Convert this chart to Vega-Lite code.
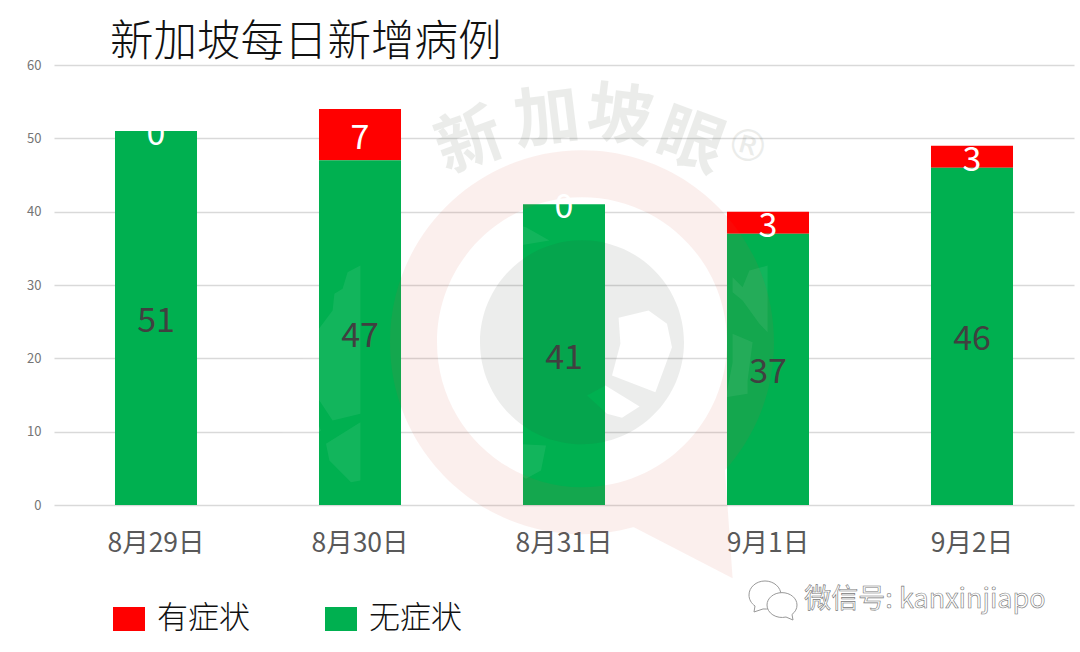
{
"$schema":"https://vega.github.io/schema/vega-lite/v6.json",
"autosize":{"type":"none"},
"padding":{"left":54,"top":65,"right":6,"bottom":147},
"width":1020,"height":440,
"background":"#ffffff",
"title":{"text":"新加坡每日新增病例","anchor":"start","frame":"group","dx":56,"offset":-6,"fontSize":43.5,"fontWeight":300,"font":"Noto Sans CJK SC","color":"#111111"},
"config":{"view":{"stroke":null},"font":"Noto Sans CJK SC"},
"data":{"values":[
{"date":"8月29日","type":"有症状","cases":0},{"date":"8月29日","type":"无症状","cases":51},
{"date":"8月30日","type":"有症状","cases":7},{"date":"8月30日","type":"无症状","cases":47},
{"date":"8月31日","type":"有症状","cases":0},{"date":"8月31日","type":"无症状","cases":41},
{"date":"9月1日","type":"有症状","cases":3},{"date":"9月1日","type":"无症状","cases":37},
{"date":"9月2日","type":"有症状","cases":3},{"date":"9月2日","type":"无症状","cases":46}
]},
"encoding":{
"x":{"field":"date","type":"nominal","sort":null,"title":null,
"scale":{"domain":["8月29日","8月30日","8月31日","9月1日","9月2日"],"paddingInner":0.598,"paddingOuter":0.299},
"axis":{"labelAngle":0,"labelFontSize":26.5,"labelColor":"#595959","labelPadding":25,"domain":false,"ticks":false,"grid":false}}
},
"layer":[
{"transform":[{"stack":"cases","groupby":["date"],"sort":[{"field":"type","order":"ascending"}],"as":["y0","y1"]}],
"mark":{"type":"bar"},
"encoding":{
"y":{"field":"y0","type":"quantitative","title":null,"scale":{"domain":[0,60],"nice":false},
"axis":{"values":[0,10,20,30,40,50,60],"labelFontSize":13,"labelColor":"#757575","labelPadding":13,"domain":false,"ticks":false,"grid":true,"gridColor":"#d9d9d9","gridWidth":1.4}},
"y2":{"field":"y1"},
"color":{"field":"type","type":"nominal","scale":{"domain":["有症状","无症状"],"range":["#ff0000","#00b050"]},
"legend":{"orient":"none","legendX":59,"legendY":538,"direction":"horizontal","columns":2,"title":null,"padding":0,"symbolType":"M-1,-0.75H1V0.75H-1Z","symbolSize":1024,"symbolStrokeWidth":0,"symbolOpacity":1,"labelFontSize":31,"labelColor":"#111111","labelOffset":12,"columnPadding":75,"labelFontWeight":300,"clipHeight":32}}
}},
{"data":{"values":[{"name":"map"}]},
"mark":{"type":"point","filled":true,"fill":"#ffffff","opacity":0.07,"size":160000,"shape":"M-0.903 -0.383L-0.967 -0.35L-0.992 -0.267L-1.033 -0.242L-1.042 -0.158L-1.142 -0.025L-1.192 0.075L-1.183 0.125L-1.292 0.392L-1.292 0.608L-1.142 0.7L-1.217 0.525L-1.1 0.442L-1.175 0.275L-1.108 0.292L-1.042 0.392L-0.903 0.358ZM-0.903 0.4L-1.075 0.508L-1.058 0.592L-0.95 0.7L-0.903 0.692ZM-0.292 -0.592L-0.2 -0.608L-0.075 -0.575L0.042 -0.508L-0.108 -0.483L-0.292 -0.375ZM-0.292 0.542L-0.142 0.508L0.025 0.517L0 0.642L-0.075 0.683L-0.225 0.592L-0.292 0.575ZM0.958 -0.325L1.008 -0.275L1.042 -0.358L1.133 -0.383L1.133 -0.05L1.092 -0.092L1.008 -0.208L0.958 -0.25ZM0.958 -0.042L1.058 0L1.033 0.192L1.033 0.258L0.925 0.275L0.958 0.1Z"},
"encoding":{"x":{"datum":"8月31日"},"y":{"datum":22.2},"xOffset":{"value":18}}},
{"data":{"values":[{"name":"ring"}]},
"mark":{"type":"point","filled":true,"fill":"#d55a45","opacity":0.094,"size":160000,"xOffset":18,
"shape":"M-0.96 0A0.96 0.96 0 0 1 0.96 0A0.96 0.96 0 0 1 -0.96 0ZM0.715 0.64L0.753 1.18L0.25 0.92ZM-0.725 0A0.725 0.725 0 0 0 0.725 0A0.725 0.725 0 0 0 -0.725 0Z"},
"encoding":{"x":{"datum":"8月31日"},"y":{"datum":22.2}}},
{"data":{"values":[{"name":"logo"}]},
"mark":{"type":"point","filled":true,"fill":"#354530","opacity":0.094,"size":160000,"xOffset":18,
"shape":"M-0.51 0A0.51 0.51 0 0 1 0.51 0A0.51 0.51 0 0 1 -0.51 0ZM0.183 -0.122L0.192 0.008L0.15 0.167L0.367 0.25L0.45 0.025L0.425 -0.092L0.333 -0.158ZM0.025 0.267L0.125 0.358L0.2 0.378L0.288 0.322L0.117 0.217Z"},
"encoding":{"x":{"datum":"8月31日"},"y":{"datum":22.2}}},
{"data":{"values":[{"label":"新"}]},
"mark":{"type":"text","fontSize":66,"fontWeight":"bold","angle":-20,"color":"#354530","opacity":0.094,"xOffset":-94,"align":"center","baseline":"middle"},
"encoding":{"x":{"datum":"8月31日"},"y":{"datum":49.36},"text":{"field":"label"}}},
{"data":{"values":[{"label":"加"}]},
"mark":{"type":"text","fontSize":66,"fontWeight":"bold","angle":-7,"color":"#354530","opacity":0.094,"xOffset":-17,"align":"center","baseline":"middle"},
"encoding":{"x":{"datum":"8月31日"},"y":{"datum":52.5},"text":{"field":"label"}}},
{"data":{"values":[{"label":"坡"}]},
"mark":{"type":"text","fontSize":66,"fontWeight":"bold","angle":7,"color":"#354530","opacity":0.094,"xOffset":56,"align":"center","baseline":"middle"},
"encoding":{"x":{"datum":"8月31日"},"y":{"datum":52.77},"text":{"field":"label"}}},
{"data":{"values":[{"label":"眼"}]},
"mark":{"type":"text","fontSize":66,"fontWeight":"bold","angle":20,"color":"#354530","opacity":0.094,"xOffset":126,"align":"center","baseline":"middle"},
"encoding":{"x":{"datum":"8月31日"},"y":{"datum":49.36},"text":{"field":"label"}}},
{"data":{"values":[{"label":"®"}]},
"mark":{"type":"text","font":"DejaVu Sans","fontSize":44,"angle":15,"color":"#354530","opacity":0.094,"xOffset":183,"align":"center","baseline":"middle"},
"encoding":{"x":{"datum":"8月31日"},"y":{"datum":48.7},"text":{"field":"label"}}},
{"transform":[{"stack":"cases","groupby":["date"],"sort":[{"field":"type","order":"ascending"}],"as":["y0","y1"]},{"calculate":"(datum.y0+datum.y1)/2","as":"mid"}],
"mark":{"type":"text","fontSize":34,"align":"center","baseline":"middle","dy":4},
"encoding":{
"y":{"field":"mid","type":"quantitative"},
"text":{"field":"cases","type":"quantitative"},
"color":{"condition":{"test":"datum.type==='有症状'","value":"#ffffff"},"value":"#404040"}
}},
{"data":{"values":[{"label":"微信号: kanxinjiapo"}]},
"mark":{"type":"text","fontSize":27,"fill":"#ffffff","stroke":"#777777","strokeWidth":0.6,"xOffset":-47,"align":"center","baseline":"middle"},
"encoding":{"x":{"datum":"9月2日"},"y":{"datum":-12.95},"text":{"field":"label"}}},
{"data":{"values":[{"name":"wechat big"}]},
"mark":{"type":"point","filled":true,"fill":"#ffffff","stroke":"#999999","strokeWidth":1,"opacity":1,"size":1600,"xOffset":-3,
"shape":"M-0.8 0A0.8 0.7 0 0 1 0.8 0A0.8 0.7 0 0 1 -0.1 0.7L-0.55 0.85L-0.5 0.55A0.8 0.7 0 0 1 -0.8 0Z"},
"encoding":{"x":{"datum":"9月1日"},"y":{"datum":-12.27}}},
{"data":{"values":[{"name":"wechat small"}]},
"mark":{"type":"point","filled":true,"fill":"#ffffff","stroke":"#999999","strokeWidth":1,"opacity":1,"size":1600,"xOffset":14,
"shape":"M-0.75 0A0.75 0.62 0 0 1 0.75 0A0.75 0.62 0 0 1 0.5 0.47L0.55 0.75L0.2 0.6A0.75 0.62 0 0 1 -0.75 0Z"},
"encoding":{"x":{"datum":"9月1日"},"y":{"datum":-13.64}}}
]
}
